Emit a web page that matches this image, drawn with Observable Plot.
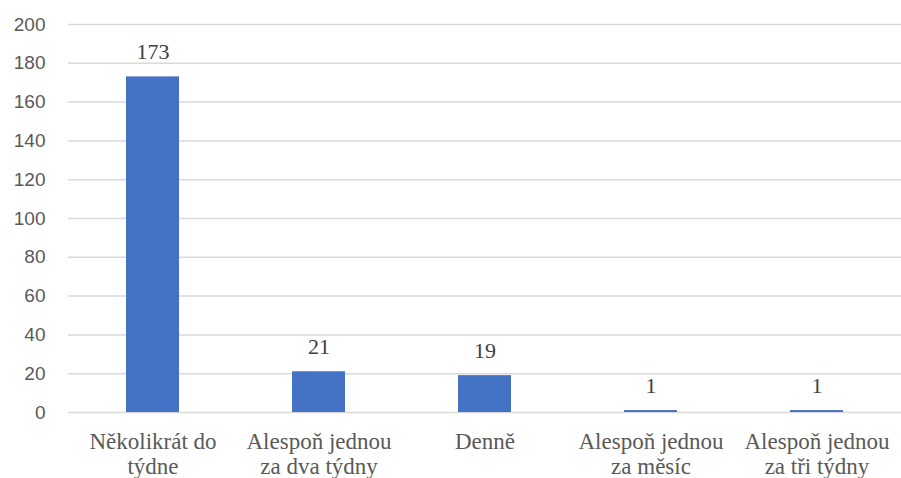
<!DOCTYPE html>
<html>
<head>
<meta charset="utf-8">
<script src="https://cdn.jsdelivr.net/npm/d3@7"></script>
<script src="https://cdn.jsdelivr.net/npm/@observablehq/plot@0.6"></script>
<style>
  html, body { margin: 0; padding: 0; background: #fff; }
</style>
</head>
<body>
<div id="chart"></div>
<script>
const categories = ["Několikrát do týdne", "Alespoň jednou za dva týdny", "Denně", "Alespoň jednou za měsíc", "Alespoň jednou za tři týdny"];
const categoryLabels = ["Několikrát do\ntýdne", "Alespoň jednou\nza dva týdny", "Denně", "Alespoň jednou\nza měsíc", "Alespoň jednou\nza tři týdny"];
const values = [173, 21, 19, 1, 1];
const yTicks = [0, 20, 40, 60, 80, 100, 120, 140, 160, 180, 200];

const data = categories.map((c, i) => ({category: c, value: values[i], label: categoryLabels[i]}));

const chart = Plot.plot({
  width: 901,
  height: 478,
  marginLeft: 68,
  marginRight: 0,
  marginTop: 24,
  marginBottom: 66,
  style: {background: "#fff"},
  x: {domain: categories, paddingInner: 0.68, paddingOuter: 0.34, label: null, axis: null},
  y: {domain: [0, 200], label: null, axis: null},
  marks: [
    Plot.gridY(yTicks, {stroke: "#d9d9d9", strokeOpacity: 1, strokeWidth: 1.5}),
    Plot.barY(data, {x: "category", y: "value", fill: "#4472c4"}),
    Plot.text(data, {x: "category", y: "value", text: d => String(d.value), lineAnchor: "bottom", dy: -18,
      fontFamily: "Liberation Serif, 'Times New Roman', serif", fontSize: 22, fill: "#404040"}),
    Plot.text(yTicks, {y: d => d, text: d => String(d), frameAnchor: "left", textAnchor: "end", dx: -23,
      fontFamily: "Liberation Sans, Arial, sans-serif", fontSize: 19, fill: "#595959"}),
    Plot.text(data, {x: "category", text: "label", frameAnchor: "bottom", lineAnchor: "top", dy: 19,
      lineHeight: 1.09, fontFamily: "Liberation Serif, 'Times New Roman', serif", fontSize: 23, fill: "#595959"})
  ]
});
document.getElementById("chart").appendChild(chart);
</script>
</body>
</html>
